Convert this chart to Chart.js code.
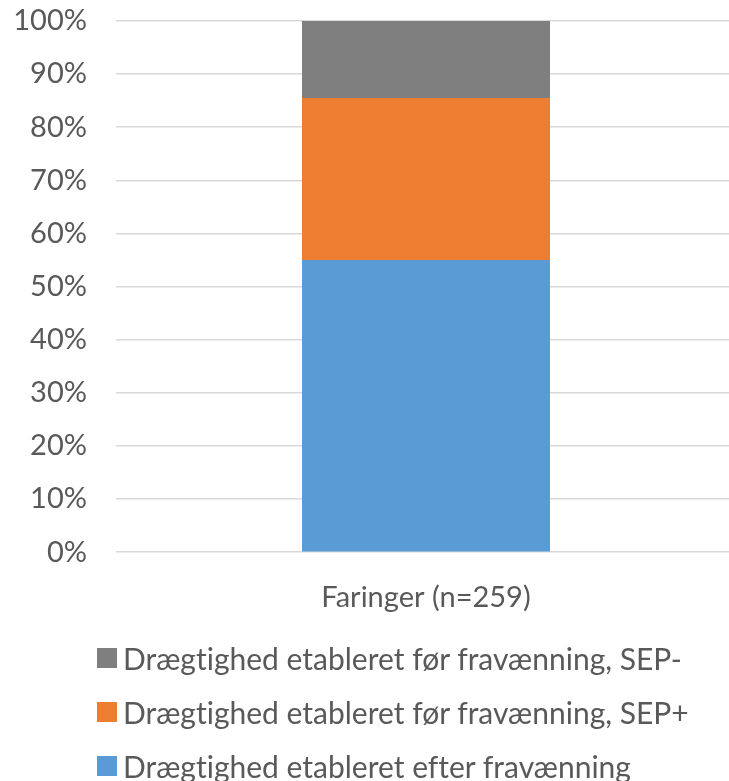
<!DOCTYPE html>
<html lang="da">
<head>
  <meta charset="UTF-8">
  <title>Drægtighed – Faringer</title>
  <script src="https://cdn.jsdelivr.net/npm/chart.js@4"></script>
  <style>
    html, body { margin: 0; padding: 0; background: #fff; }
    .wrap { position: relative; width: 729px; height: 781px; overflow: hidden; }
    #chart { position: absolute; left: 0; top: 0; }
    .legend {
      position: absolute;
      left: 97px;
      top: 631px;
      font-family: Lato, "Open Sans", sans-serif;
      font-size: 30px;
      color: #595959;
      font-variant-ligatures: none;
      white-space: nowrap;
    }
    .legend-item { display: flex; align-items: center; height: 54px; }
    .legend-box { width: 20px; height: 20px; margin-right: 6px; }
  </style>
</head>
<body>
  <div class="wrap">
    <canvas id="chart" width="743" height="781"></canvas>
    <div class="legend" id="legend"></div>
  </div>

  <script>
    // data
    const categories = ['Faringer (n=259)'];
    const seriesNames = [
      'Drægtighed etableret efter fravænning',
      'Drægtighed etableret før fravænning, SEP+',
      'Drægtighed etableret før fravænning, SEP-'
    ];
    const efterValues = [55.0];
    const sepPlusValues = [30.5];
    const sepMinusValues = [14.5];
    const yTicks = [0, 10, 20, 30, 40, 50, 60, 70, 80, 90, 100];
    const colors = ['#5b9bd5', '#ed7d31', '#7f7f7f'];

    const font = 'Lato, "Open Sans", sans-serif';

    const datasets = [efterValues, sepPlusValues, sepMinusValues].map((vals, i) => ({
      label: seriesNames[i],
      data: vals,
      backgroundColor: colors[i],
      borderWidth: 0,
      barPercentage: 0.4,
      categoryPercentage: 1.0
    }));

    new Chart(document.getElementById('chart'), {
      type: 'bar',
      data: { labels: categories, datasets: datasets },
      options: {
        responsive: false,
        animation: false,
        layout: { padding: { left: 0, right: 7, top: 21, bottom: 146 } },
        plugins: {
          legend: { display: false },
          tooltip: { enabled: false }
        },
        scales: {
          x: {
            stacked: true,
            grid: { display: false },
            border: { display: false },
            ticks: {
              color: '#595959',
              font: { family: font, size: 29 },
              padding: 20
            }
          },
          y: {
            stacked: true,
            min: 0,
            max: 100,
            afterBuildTicks: axis => {
              axis.ticks = yTicks.map(v => ({ value: v }));
            },
            afterFit: axis => {
              axis.width = 116;
              axis.paddingTop = 0;
              axis.paddingBottom = 0;
            },
            grid: { color: '#d9d9d9', lineWidth: 1.5, drawTicks: false },
            border: { display: false },
            ticks: {
              color: '#595959',
              font: { family: font, size: 29 },
              padding: 29,
              callback: v => v + '%'
            }
          }
        }
      }
    });

    // legend below the chart, top item is the top of the stack
    const legend = document.getElementById('legend');
    for (let i = seriesNames.length - 1; i >= 0; i--) {
      const item = document.createElement('div');
      item.className = 'legend-item';
      item.innerHTML = '<span class="legend-box" style="background:' + colors[i] + '"></span>' + seriesNames[i];
      legend.appendChild(item);
    }
  </script>
</body>
</html>
